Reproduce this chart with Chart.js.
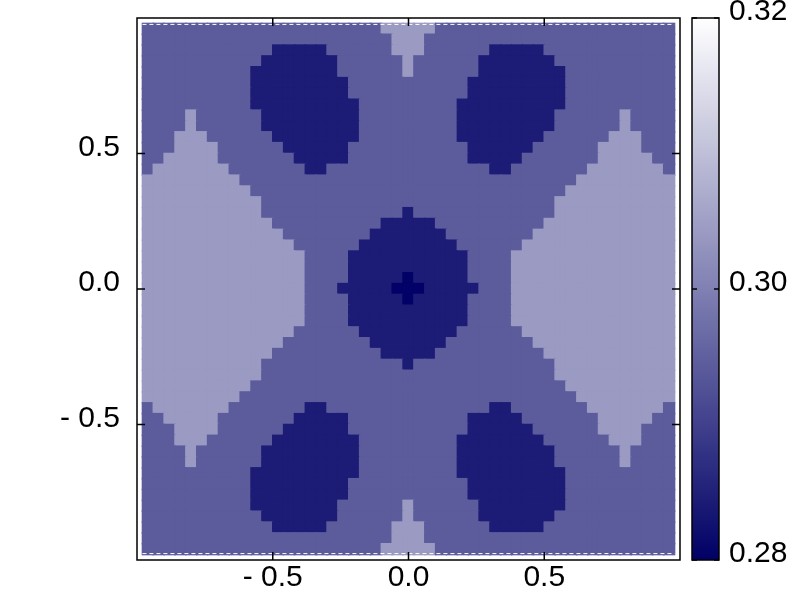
<!DOCTYPE html>
<html>
<head>
<meta charset="utf-8">
<title>map</title>
<script src="https://cdn.jsdelivr.net/npm/chart.js"></script>
<style>
  body { margin: 0; background: #fff; }
  #wrap { width: 800px; height: 600px; }
</style>
</head>
<body>
<div id="wrap"><canvas id="map" width="800" height="600"></canvas></div>
<script>
// cell centres run from -0.96 to 0.96 in steps of 0.04 (49 x 49), top row first
const gridStart = -0.96;
const gridStep = 0.04;

// value of each level seen in the picture (0 = darkest ... 3 = lightest)
const levelValues = [0.2802, 0.2844, 0.2944, 0.3042];

// level of every cell (spaces only group the columns by ten)
const gridRows = [
  "2222222222 2222222222 2233333222 2222222222 222222222",
  "2222222222 2222222222 2223332222 2222222222 222222222",
  "2222222222 2211111222 2223332222 2211111222 222222222",
  "2222222222 2111111122 2222322222 2111111122 222222222",
  "2222222222 1111111122 2222322222 2111111112 222222222",
  "2222222222 1111111112 2222222222 1111111112 222222222",
  "2222222222 1111111112 2222222222 1111111112 222222222",
  "2222222222 1111111111 2222222221 1111111112 222222222",
  "2222322222 2111111111 2222222221 1111111122 222232222",
  "2222322222 2111111111 2222222221 1111111122 222232222",
  "2223332222 2211111111 2222222221 1111111222 222333222",
  "2223333222 2221111112 2222222222 1111112222 223333222",
  "2233333222 2222111112 2222222222 1111122222 223333322",
  "2333333322 2222211222 2222222222 2211222222 233333332",
  "3333333332 2222222222 2222222222 2222222222 333333333",
  "3333333333 2222222222 2222222222 2222222223 333333333",
  "3333333333 3222222222 2222222222 2222222233 333333333",
  "3333333333 3222222222 2222122222 2222222233 333333333",
  "3333333333 3322222222 2211111222 2222222333 333333333",
  "3333333333 3332222222 2111111122 2222223333 333333333",
  "3333333333 3333222222 1111111112 2222233333 333333333",
  "3333333333 3333322221 1111111111 2222333333 333333333",
  "3333333333 3333322221 1111111111 2222333333 333333333",
  "3333333333 3333322221 1111011111 2222333333 333333333",
  "3333333333 3333322211 1110001111 1222333333 333333333",
  "3333333333 3333322221 1111011111 2222333333 333333333",
  "3333333333 3333322221 1111111111 2222333333 333333333",
  "3333333333 3333322221 1111111111 2222333333 333333333",
  "3333333333 3333222222 1111111112 2222233333 333333333",
  "3333333333 3332222222 2111111122 2222223333 333333333",
  "3333333333 3322222222 2211111222 2222222333 333333333",
  "3333333333 3222222222 2222122222 2222222233 333333333",
  "3333333333 3222222222 2222222222 2222222233 333333333",
  "3333333333 2222222222 2222222222 2222222223 333333333",
  "3333333332 2222222222 2222222222 2222222222 333333333",
  "2333333322 2222211222 2222222222 2211222222 233333332",
  "2233333222 2222111112 2222222222 1111122222 223333322",
  "2223333222 2221111112 2222222222 1111112222 223333222",
  "2223332222 2211111111 2222222221 1111111222 222333222",
  "2222322222 2111111111 2222222221 1111111122 222232222",
  "2222322222 2111111111 2222222221 1111111122 222232222",
  "2222222222 1111111111 2222222221 1111111112 222222222",
  "2222222222 1111111112 2222222222 1111111112 222222222",
  "2222222222 1111111112 2222222222 1111111112 222222222",
  "2222222222 1111111122 2222322222 2111111112 222222222",
  "2222222222 2111111122 2222322222 2111111122 222222222",
  "2222222222 2211111222 2223332222 2211111222 222222222",
  "2222222222 2222222222 2223332222 2222222222 222222222",
  "2222222222 2222222222 2233333222 2222222222 222222222"
];

const xTicks = [-0.5, 0, 0.5];
const xTickLabels = ['- 0.5', '0.0', '0.5'];
const yTicks = [-0.5, 0, 0.5];
const yTickLabels = ['- 0.5', '0.0', '0.5'];
const cbMin = 0.28;
const cbMax = 0.32;
const cbTicks = [0.28, 0.30, 0.32];
const cbTickLabels = ['0.28', '0.30', '0.32'];

// navy to white, like the colour bar
function colourFor(v) {
  const t = Math.min(1, Math.max(0, (v - cbMin) / (cbMax - cbMin)));
  const r = Math.round(255 * t);
  const b = Math.round(102 + 153 * t);
  return 'rgb(' + r + ',' + r + ',' + b + ')';
}

const cells = [];
gridRows.forEach((row, j) => {
  const s = row.replace(/ /g, '');
  for (let i = 0; i < s.length; i++) {
    cells.push({ x: gridStart + gridStep * i, y: -gridStart - gridStep * j, v: levelValues[+s[i]] });
  }
});

const font = { family: "'Liberation Sans', Arial, Helvetica, sans-serif", size: 30 };
const tickLen = 8;

// invisible tick marks only push the labels away from the axis
function gapGrid(len) {
  return { display: true, drawOnChartArea: false, drawTicks: true, tickLength: len, tickColor: 'rgba(0,0,0,0)' };
}

const framePlugin = {
  id: 'frame',
  afterDatasetsDraw(chart) {
    // white dashes along the top and bottom rows, as in the original
    const { ctx, scales } = chart;
    const x0 = scales.x.getPixelForValue(gridStart - gridStep / 2);
    const x1 = scales.x.getPixelForValue(-gridStart + gridStep / 2);
    const yt = scales.y.getPixelForValue(-gridStart + gridStep / 2) + 1;
    const yb = scales.y.getPixelForValue(gridStart - gridStep / 2) - 1;
    ctx.save();
    ctx.strokeStyle = '#fff';
    ctx.lineWidth = 1;
    ctx.setLineDash([4, 3]);
    ctx.beginPath();
    ctx.moveTo(x0, yt); ctx.lineTo(x1, yt);
    ctx.moveTo(x0, yb); ctx.lineTo(x1, yb);
    ctx.stroke();
    ctx.restore();
  },
  afterDraw(chart) {
    const { ctx, chartArea: a, scales } = chart;
    ctx.save();
    ctx.strokeStyle = '#000';
    ctx.lineWidth = 1.5;
    ctx.strokeRect(a.left, a.top, a.right - a.left, a.bottom - a.top);
    ctx.beginPath();
    xTicks.forEach(v => {
      const px = scales.x.getPixelForValue(v);
      ctx.moveTo(px, a.bottom); ctx.lineTo(px, a.bottom - tickLen);
      ctx.moveTo(px, a.top); ctx.lineTo(px, a.top + tickLen);
    });
    yTicks.forEach(v => {
      const py = scales.y.getPixelForValue(v);
      ctx.moveTo(a.left, py); ctx.lineTo(a.left + tickLen, py);
      ctx.moveTo(a.right, py); ctx.lineTo(a.right - tickLen, py);
    });
    ctx.stroke();

    // colour bar
    const cb = scales.cb;
    const top = cb.getPixelForValue(cbMax);
    const bottom = cb.getPixelForValue(cbMin);
    const bx = a.right + 12;
    const w = 27;
    const g = ctx.createLinearGradient(0, bottom, 0, top);
    for (let k = 0; k <= 10; k++) {
      g.addColorStop(k / 10, colourFor(cbMin + (cbMax - cbMin) * k / 10));
    }
    ctx.fillStyle = g;
    ctx.fillRect(bx, top, w, bottom - top);
    ctx.strokeRect(bx, top, w, bottom - top);
    ctx.beginPath();
    cbTicks.forEach(v => {
      const py = cb.getPixelForValue(v);
      ctx.moveTo(bx, py); ctx.lineTo(bx + 5, py);
      ctx.moveTo(bx + w, py); ctx.lineTo(bx + w - 5, py);
    });
    ctx.stroke();
    ctx.restore();
  }
};

new Chart(document.getElementById('map'), {
  type: 'scatter',
  data: {
    datasets: [{
      data: cells,
      pointStyle: 'rect',
      borderWidth: 0,
      backgroundColor: c => colourFor(c.raw.v),
      pointRadius: c => {
        const s = c.chart.scales.x;
        return (s.getPixelForValue(gridStep) - s.getPixelForValue(0) + 1.5) / Math.SQRT2;
      }
    }]
  },
  options: {
    responsive: false,
    animation: false,
    events: [],
    layout: { padding: { top: 18, left: 0, right: 0, bottom: 0 } },
    plugins: { legend: { display: false }, tooltip: { enabled: false } },
    scales: {
      x: {
        type: 'linear', min: -1, max: 1,
        grid: { display: false }, border: { display: false },
        afterBuildTicks: s => { s.ticks = xTicks.map(v => ({ value: v })); },
        afterFit: s => { s.height = 40; },
        ticks: {
          callback: v => xTickLabels[xTicks.indexOf(v)],
          font: font, color: '#000', padding: -8, maxRotation: 0, autoSkip: false
        }
      },
      y: {
        type: 'linear', position: 'left', min: -1, max: 1,
        grid: gapGrid(17), border: { display: false },
        afterBuildTicks: s => { s.ticks = yTicks.map(v => ({ value: v })); },
        afterFit: s => { s.width = 137; },
        ticks: {
          callback: v => yTickLabels[yTicks.indexOf(v)],
          font: font, color: '#000', padding: 0, labelOffset: -6, autoSkip: false
        }
      },
      cb: {
        type: 'linear', position: 'right', min: cbMin, max: cbMax,
        grid: gapGrid(49), border: { display: false },
        afterBuildTicks: s => { s.ticks = cbTicks.map(v => ({ value: v })); },
        afterFit: s => { s.width = 120; },
        ticks: {
          callback: v => cbTickLabels[cbTicks.indexOf(v)],
          font: font, color: '#000', padding: 0, labelOffset: -6, autoSkip: false
        }
      }
    }
  },
  plugins: [framePlugin]
});
</script>
</body>
</html>
